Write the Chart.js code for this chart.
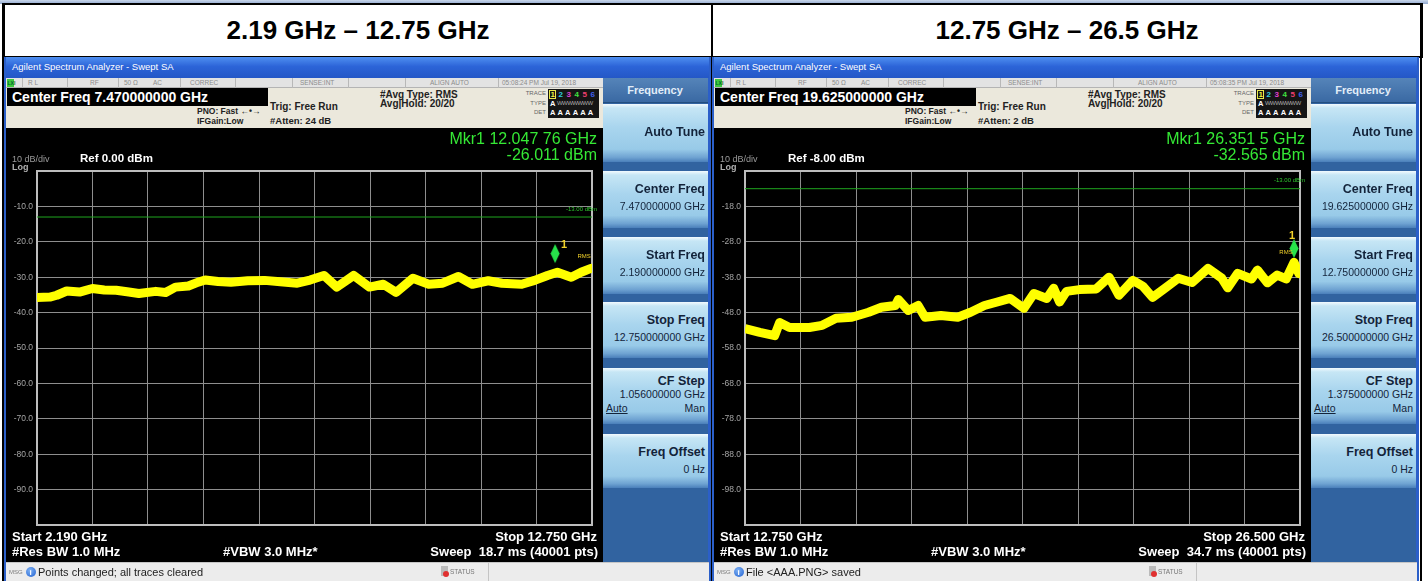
<!DOCTYPE html>
<html><head><meta charset="utf-8">
<script src="https://cdn.jsdelivr.net/npm/chart.js@4.4.1/dist/chart.umd.min.js"></script>
<style>
body{margin:0;width:1428px;height:581px;overflow:hidden;background:#fff;position:relative;font-family:"Liberation Sans",Arial,sans-serif}
.a{position:absolute;white-space:nowrap}
canvas{position:absolute;background:#000}
</style></head><body>
<script>
// ---------- data ----------
const leftFreqGHz = [2.190,2.435,2.566,2.755,2.999,3.244,3.470,3.696,3.903,4.129,4.449,4.637,4.825,5.070,5.258,5.390,5.635,5.880,6.200,6.520,6.821,7.141,7.385,7.649,7.894,8.214,8.515,8.778,9.023,9.343,9.644,9.908,10.209,10.473,10.774,11.037,11.414,11.658,11.903,12.091,12.355,12.543,12.731,12.750];
const leftLevelDbm = [-35.7,-35.6,-35.1,-33.9,-34.2,-33.2,-33.6,-33.7,-34.1,-34.6,-34.0,-34.3,-32.8,-32.5,-31.4,-30.8,-31.2,-31.4,-31.0,-30.9,-31.3,-31.7,-30.8,-29.5,-32.8,-29.5,-32.8,-32.0,-34.3,-30.3,-32.0,-31.7,-29.8,-32.0,-31.0,-31.7,-32.0,-30.9,-29.5,-28.6,-30.0,-28.6,-27.5,-28.0];
const rightFreqGHz = [12.750,13.118,13.485,13.608,13.853,14.343,14.662,15.005,15.397,15.814,16.132,16.475,16.549,16.794,17.039,17.211,17.603,18.020,18.338,18.682,19.000,19.319,19.662,19.907,20.226,20.397,20.544,20.716,21.034,21.451,21.770,22.015,22.358,22.603,22.848,23.167,23.485,23.829,24.221,24.564,24.711,24.956,25.299,25.446,25.691,25.936,26.157,26.351,26.474,26.500];
const rightLevelDbm = [-52.5,-53.6,-54.5,-50.8,-52.2,-52.2,-51.6,-49.6,-49.3,-47.9,-46.5,-46.0,-44.3,-47.4,-46.0,-49.3,-48.8,-49.3,-47.9,-46.0,-45.0,-44.0,-46.8,-42.6,-44.0,-41.1,-45.0,-42.0,-41.5,-41.3,-38.0,-43.1,-38.9,-40.5,-43.7,-41.0,-38.3,-39.5,-35.5,-38.3,-41.0,-36.9,-38.5,-36.0,-39.6,-37.4,-38.5,-33.8,-37.0,-36.5];
const leftYTicks = [-100,-90,-80,-70,-60,-50,-40,-30,-20,-10,0];
const rightYTicks = [-108,-98,-88,-78,-68,-58,-48,-38,-28,-18,-8];
const leftXRange = [2.19, 12.75];
const rightXRange = [12.75, 26.5];
const leftMarker = [12.04776, -26.011];
const rightMarker = [26.3515, -32.565];
const displayLineDbm = -13;

// ---------- helpers ----------
const root=document.body;
function box(x,y,w,h,css){const d=document.createElement('div');d.className='a';d.style.cssText=`left:${x}px;top:${y}px;width:${w}px;height:${h}px;box-sizing:border-box;`+(css||'');root.appendChild(d);return d;}
function txt(x,yc,s,size,css,align){const d=document.createElement('div');d.className='a';d.textContent=s;let tr=align==='r'?'translateX(-100%)':align==='c'?'translateX(-50%)':'';d.style.cssText=`left:${x}px;top:${yc-size*0.62}px;font-size:${size}px;line-height:${size*1.2}px;`+(tr?`transform:${tr};`:'')+(css||'');root.appendChild(d);return d;}

// page frame
box(0,0,1428,4,'background:linear-gradient(#c9d6ea,#90a8cf);');
box(3,3,1420,55,'border:2px solid #000;background:#fff;');
box(711,3,2,578,'background:#000;');
box(1420,3,2,578,'background:#000;');
box(2,3,2,578,'background:#000;');
txt(358,31,'2.19 GHz – 12.75 GHz',26,'font-weight:bold;color:#000;','c');
txt(1067,31,'12.75 GHz – 26.5 GHz',26,'font-weight:bold;color:#000;','c');

function makeDiamond(){const c=document.createElement('canvas');c.width=10;c.height=40;c.style.position='static';c.style.background='transparent';const g=c.getContext('2d');g.fillStyle='#27e34a';g.beginPath();g.moveTo(5,1);g.lineTo(9.5,10.5);g.lineTo(5,20);g.lineTo(0.5,10.5);g.closePath();g.fill();return c;}

const frame={id:'frame',beforeDatasetsDraw(ch){const a=ch.chartArea,c=ch.ctx;c.save();c.strokeStyle='#bdbdbd';c.lineWidth=2;c.strokeRect(a.left,a.top,a.right-a.left,a.bottom-a.top);c.restore();}};
const mkrLabel={id:'mkr',afterDatasetsDraw(ch,args,o){const p=ch.getDatasetMeta(2).data[0];if(!p)return;const c=ch.ctx;c.save();c.fillStyle='#f2d22a';c.textAlign='center';c.textBaseline='middle';c.font='bold 11px "Liberation Sans"';c.fillText('1',p.x+o.oneDx,p.y+o.oneDy);c.font='6px "Liberation Sans"';c.fillText('RMS',p.x+o.rmsDx,p.y+o.rmsDy);c.restore();}};

function makeChart(x,freq,level,xr,yt,mk,mo){
  const cv=document.createElement('canvas');cv.width=597;cv.height=434;cv.style.left=x+'px';cv.style.top='128px';root.appendChild(cv);
  const xt=[];for(let i=0;i<=10;i++)xt.push(xr[0]+i*(xr[1]-xr[0])/10);
  new Chart(cv,{type:'line',
    data:{datasets:[
      {data:[{x:xr[0],y:displayLineDbm},{x:xr[1],y:displayLineDbm}],borderColor:'#1fa51f',borderWidth:1,pointRadius:0,order:3},
      {data:freq.map((f,i)=>({x:f,y:level[i]})),borderColor:'#ffff00',borderWidth:9,pointRadius:0,tension:0,borderJoinStyle:'round',order:2},
      {data:[{x:mk[0],y:mk[1]}],showLine:false,pointStyle:makeDiamond(),pointRadius:10,order:1}
    ]},
    options:{responsive:false,animation:false,devicePixelRatio:1,
      layout:{padding:{left:0,top:43,right:5,bottom:37}},
      plugins:{legend:{display:false},tooltip:{enabled:false},mkr:mo},
      scales:{
        x:{type:'linear',min:xr[0],max:xr[1],ticks:{display:false},grid:{color:'#8e8e8e',drawTicks:false,lineWidth:1},border:{display:false},
           afterBuildTicks:s=>{s.ticks=xt.map(v=>({value:v}));},afterFit:s=>{s.height=0;}},
        y:{min:yt[0],max:yt[yt.length-1],grid:{color:'#8e8e8e',drawTicks:false,lineWidth:1},border:{display:false},
           ticks:{color:'#a4a4a4',font:{size:8.5,family:'Liberation Sans'},padding:4,callback:(v,i,t)=>(i===0||i===t.length-1)?'':Number(v).toFixed(1)},
           afterBuildTicks:s=>{s.ticks=yt.map(v=>({value:v}));},afterFit:s=>{s.width=31;}}
      }},
    plugins:[frame,mkrLabel]});
}

function screen(ox,S){
  box(ox+4,57,707,524,'background:#2b5fc9;');
  box(ox+6,57,703,21,'background:linear-gradient(#4f8ff0,#2c64d8 45%,#2457c6);');
  txt(ox+12,67,'Agilent Spectrum Analyzer - Swept SA',9.5,'color:#fff;');
  box(ox+6,78,597,50,'background:#ebe8dc;');
  box(ox+6,78,597,10,'background:#e3e3e3;border-bottom:1px solid #b4b4b4;');
  box(ox+7,79,7,8,'background:#3fc93f;');
  txt(ox+7.5,83,'LXI',5,'color:#063;font-weight:bold;');
  [22,67,118,180,235,292,348,405,498].forEach(v=>box(ox+v,78,1,10,'background:#b8b8b8;'));
  const st=[[28,'R L'],[90,'RF'],[124,'50 Ω'],[153,'AC'],[190,'CORREC'],[300,'SENSE:INT'],[430,'ALIGN AUTO'],[502,S.date]];
  st.forEach(([x,s])=>txt(ox+x,83,s,6.5,'color:#8c8c8c;'));
  box(ox+7,88,261,18,'background:#000;');
  txt(ox+12,97.5,S.center,14,'color:#fff;font-weight:bold;');
  txt(ox+197,111,'PNO: Fast  ←•→',8.5,'color:#222;font-weight:bold;');
  txt(ox+197,121,'IFGain:Low',8.5,'color:#222;font-weight:bold;');
  txt(ox+270,107,'Trig: Free Run',10,'color:#222;font-weight:bold;');
  txt(ox+270,121,S.atten,9.5,'color:#222;font-weight:bold;');
  txt(ox+380,95,'#Avg Type: RMS',10,'color:#222;font-weight:bold;');
  txt(ox+380,104,'Avg|Hold: 20/20',10,'color:#222;font-weight:bold;');
  txt(ox+546,94,'TRACE',6,'color:#666;','r');
  txt(ox+546,104,'TYPE',6,'color:#666;','r');
  txt(ox+546,113,'DET',6,'color:#666;','r');
  box(ox+548,89,51,29,'background:#151515;');
  box(ox+549,90,7,9,'border:1px solid #e8e84a;');
  [['1','#f0f040'],['2','#30d0e0'],['3','#e040d0'],['4','#40e040'],['5','#f04070'],['6','#4060f0']].forEach(([d,c],i)=>txt(ox+550.5+i*8,94.5,d,8,'color:'+c+';font-weight:bold;'));
  txt(ox+550,104,'A',7.5,'color:#fff;font-weight:bold;');
  txt(ox+557,104,'WWWWWWW',6,'color:#aaa;letter-spacing:-0.6px;');
  txt(ox+550,113,'A A A A A A',7.5,'color:#fff;font-weight:bold;letter-spacing:0.3px;');
  // graph
  makeChart(ox+6,S.freq,S.level,S.xr,S.yt,S.mk,S.mo);
  txt(ox+12,160,'10 dB/div',9,'color:#9a9a9a;');
  txt(ox+12,168,'Log',9,'color:#b0b0b0;font-weight:bold;');
  txt(ox+80,159.5,S.ref,11.5,'color:#fff;font-weight:bold;');
  txt(ox+597,139,S.mkrF,16,'color:#35e835;','r');
  txt(ox+597,155,S.mkrA,16,'color:#35e835;','r');
  txt(ox+597,S.dlY,'-13.00 dBm',6,'color:#2fc82f;','r');
  txt(ox+12,537,S.start,13,'color:#fff;font-weight:bold;');
  txt(ox+12,552,'#Res BW 1.0 MHz',13,'color:#fff;font-weight:bold;');
  txt(ox+223,552,'#VBW 3.0 MHz*',13,'color:#fff;font-weight:bold;');
  txt(ox+597,537,S.stop,13,'color:#fff;font-weight:bold;','r');
  txt(ox+598,552,S.sweep,13,'color:#fff;font-weight:bold;white-space:pre;','r');
  // softkeys
  box(ox+603,78,105,484,'background:#3163a0;');
  box(ox+603,78,105,25,'background:linear-gradient(#5584b9,#3a69a3);border-bottom:1px solid #234f80;');
  txt(ox+655,91,'Frequency',11,'color:#e2edf8;font-weight:bold;','c');
  const keyBg='background:linear-gradient(#f2fafe 0px,#c6e6f5 4px,#a9d5ee 40%,#98cae8 78%,#6fa3d2 92%,#4a7fba 100%);';
  const K='color:#13233a;font-weight:bold;',V='color:#13233a;';
  box(ox+603,104,105,58,keyBg); txt(ox+705,133,'Auto Tune',12.5,K,'r');
  box(ox+603,171,105,57,keyBg); txt(ox+705,190,'Center Freq',12.5,K,'r'); txt(ox+705,207,S.kCenter,10.5,V,'r');
  box(ox+603,237,105,57,keyBg); txt(ox+705,256,'Start Freq',12.5,K,'r'); txt(ox+705,273,S.kStart,10.5,V,'r');
  box(ox+603,302,105,56,keyBg); txt(ox+705,321,'Stop Freq',12.5,K,'r'); txt(ox+705,338,S.kStop,10.5,V,'r');
  box(ox+603,368,105,56,keyBg); txt(ox+705,382,'CF Step',12.5,K,'r'); txt(ox+705,395,S.kStep,10.5,V,'r');
  txt(ox+606,409,'Auto',10.5,V+'text-decoration:underline;'); txt(ox+705,409,'Man',10.5,V,'r');
  box(ox+603,434,105,54,keyBg); txt(ox+705,453,'Freq Offset',12.5,K,'r'); txt(ox+705,470,'0 Hz',10.5,V,'r');
  // status bar
  box(ox+6,562,703,19,'background:#ececec;border-top:1px solid #c6c6c6;');
  txt(ox+9,573,'MSG',6,'color:#7a7a7a;');
  box(ox+26,567,10,10,'background:radial-gradient(circle at 40% 35%,#7fb2f4,#1f5fd0);border-radius:50%;');
  txt(ox+29.5,572.5,'i',8,'color:#fff;font-weight:bold;');
  txt(ox+38,572.5,S.msg,11,'color:#222;');
  box(ox+441,566,7,10,'background:#bbb;');
  box(ox+443,571,6,6,'background:#e03030;border-radius:50%;');
  txt(ox+450,572.5,'STATUS',6.5,'color:#777;');
  box(ox+488,563,1,18,'background:#c4c4c4;');
}

screen(0,{date:'05:08:24 PM Jul 19, 2018',center:'Center Freq 7.470000000 GHz',atten:'#Atten: 24 dB',
  freq:leftFreqGHz,level:leftLevelDbm,xr:leftXRange,yt:leftYTicks,mk:leftMarker,mo:{oneDx:9,oneDy:-18,rmsDx:29,rmsDy:-7},
  ref:'Ref 0.00 dBm',mkrF:'Mkr1 12.047 76 GHz',mkrA:'-26.011 dBm',dlY:210,
  start:'Start 2.190 GHz',stop:'Stop 12.750 GHz',sweep:'Sweep  18.7 ms (40001 pts)',
  kCenter:'7.470000000 GHz',kStart:'2.190000000 GHz',kStop:'12.750000000 GHz',kStep:'1.056000000 GHz',
  msg:'Points changed; all traces cleared'});
screen(708,{date:'05:08:35 PM Jul 19, 2018',center:'Center Freq 19.625000000 GHz',atten:'#Atten: 2 dB',
  freq:rightFreqGHz,level:rightLevelDbm,xr:rightXRange,yt:rightYTicks,mk:rightMarker,mo:{oneDx:-2,oneDy:-22,rmsDx:-8,rmsDy:-6},
  ref:'Ref -8.00 dBm',mkrF:'Mkr1 26.351 5 GHz',mkrA:'-32.565 dBm',dlY:181,
  start:'Start 12.750 GHz',stop:'Stop 26.500 GHz',sweep:'Sweep  34.7 ms (40001 pts)',
  kCenter:'19.625000000 GHz',kStart:'12.750000000 GHz',kStop:'26.500000000 GHz',kStep:'1.375000000 GHz',
  msg:'File <AAA.PNG> saved'});
</script>
</body></html>
